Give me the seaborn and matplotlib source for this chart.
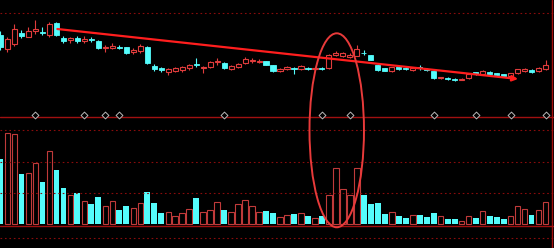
import numpy as np
import pandas as pd
import matplotlib
matplotlib.use("Agg")
import matplotlib.pyplot as plt
from matplotlib.patches import Ellipse
import seaborn as sns

# ---------------- data ----------------
opens = [10.50, 9.10, 9.60, 10.75, 10.35, 10.90, 10.85, 10.50, 11.70, 10.20,
         10.00, 10.20, 9.90, 10.10, 9.93, 9.17, 9.25, 9.35, 9.27, 8.80,
         8.87, 9.33, 7.43, 7.17, 6.83, 6.95, 7.02, 7.17, 7.65, 7.17,
         7.30, 7.77, 7.70, 7.12, 7.30, 7.67, 7.90, 7.85, 7.90, 7.50,
         6.90, 7.07, 7.20, 7.07, 7.23, 7.10, 7.23, 7.17, 8.47, 8.43,
         8.30, 8.45, 8.75, 8.47, 7.50, 7.17, 6.90, 7.30, 7.23, 7.00,
         7.27, 7.15, 6.90, 6.17, 6.23, 6.13, 6.03, 6.20, 6.77, 6.65,
         6.83, 6.70, 6.60, 6.40, 6.70, 6.90, 7.05, 6.90, 7.10]
highs = [10.90, 10.30, 11.60, 11.00, 11.30, 12.00, 11.30, 11.80, 11.80, 10.40,
         10.30, 10.40, 10.40, 10.30, 10.00, 9.50, 9.70, 9.53, 9.30, 9.17,
         9.57, 9.40, 7.60, 7.33, 7.17, 7.33, 7.40, 7.63, 8.20, 7.45,
         7.90, 8.20, 7.77, 7.55, 7.70, 8.33, 8.23, 8.10, 7.95, 7.55,
         7.20, 7.43, 7.33, 7.50, 7.30, 7.30, 7.30, 8.65, 8.95, 8.80,
         8.67, 9.55, 9.00, 8.50, 7.55, 7.23, 7.35, 7.40, 7.30, 7.25,
         7.50, 7.20, 6.95, 6.33, 6.30, 6.20, 6.20, 6.70, 6.85, 7.05,
         6.90, 6.75, 6.65, 6.73, 7.15, 7.20, 7.10, 7.30, 8.00]
lows = [9.00, 8.80, 9.40, 10.20, 10.30, 10.60, 10.50, 10.30, 10.40, 9.70,
        9.70, 9.70, 9.70, 9.80, 9.10, 8.83, 9.10, 9.10, 8.60, 8.60,
        8.73, 7.60, 6.90, 6.83, 6.50, 6.83, 6.83, 7.03, 7.35, 6.70,
        7.20, 7.50, 7.15, 7.00, 7.20, 7.60, 7.70, 7.70, 7.50, 6.85,
        6.80, 6.97, 6.60, 7.00, 7.00, 7.00, 7.00, 7.10, 8.40, 8.33,
        8.23, 8.40, 8.50, 8.00, 6.93, 6.90, 6.80, 7.05, 7.00, 6.93,
        7.00, 6.90, 6.13, 6.10, 6.00, 5.93, 5.97, 6.13, 6.53, 6.60,
        6.53, 6.43, 6.35, 6.33, 6.63, 6.83, 6.75, 6.83, 7.05]
closes = [9.30, 10.10, 11.10, 10.40, 10.95, 11.15, 10.75, 11.60, 10.50, 9.90,
          10.20, 9.90, 10.15, 10.00, 9.17, 9.33, 9.45, 9.25, 8.67, 9.00,
          9.40, 7.67, 7.10, 6.97, 7.07, 7.20, 7.27, 7.50, 7.50, 7.35,
          7.80, 7.90, 7.20, 7.45, 7.60, 8.13, 8.00, 7.95, 7.55, 6.92,
          7.10, 7.33, 7.10, 7.40, 7.07, 7.20, 7.10, 8.55, 8.75, 8.67,
          8.55, 9.07, 8.67, 8.05, 7.00, 6.95, 7.30, 7.13, 7.08, 7.17,
          7.17, 7.00, 6.17, 6.27, 6.07, 6.00, 6.15, 6.62, 6.60, 6.95,
          6.60, 6.50, 6.40, 6.67, 7.08, 7.13, 6.82, 7.23, 7.53]
volumes = [64.7, 90.4, 89.7, 49.7, 50.4, 61.0, 42.0, 72.7, 53.7, 35.7,
           28.7, 30.4, 22.7, 19.7, 27.0, 17.7, 22.7, 13.7, 17.7, 15.4,
           20.4, 31.7, 20.7, 11.0, 11.4, 7.4, 10.4, 14.7, 25.7, 11.4,
           13.4, 21.4, 13.4, 11.4, 19.4, 23.7, 17.4, 11.4, 12.4, 10.4,
           6.4, 8.4, 9.4, 10.4, 7.7, 5.4, 7.7, 28.4, 55.4, 34.4,
           28.4, 55.4, 28.4, 19.4, 20.7, 9.7, 11.4, 7.4, 6.0, 8.4,
           8.4, 6.7, 10.4, 7.4, 4.4, 4.7, 2.7, 7.7, 5.4, 13.0,
           7.4, 6.4, 4.7, 7.7, 17.4, 14.4, 9.0, 13.4, 21.7]
# direction of each day (1 = up/red hollow, 0 = down/cyan filled)
up_flags = [0, 1, 1, 0, 1, 1, 0, 1, 0, 0, 1, 0, 1, 0, 0, 1, 1, 0, 0, 1,
            1, 0, 0, 0, 1, 1, 1, 1, 0, 1, 1, 1, 0, 1, 1, 1, 1, 1, 0, 0,
            1, 1, 0, 1, 0, 1, 0, 1, 1, 1, 1, 1, 0, 0, 0, 0, 1, 0, 0, 1,
            0, 0, 0, 1, 0, 0, 1, 1, 0, 1, 0, 0, 0, 1, 1, 1, 0, 1, 1]
signal_days = [5, 12, 15, 17, 32, 46, 50, 62, 68, 73, 78]
trend_start = (8.17, 11.10)
trend_end = (74.03, 6.10)

# ---------------- style ----------------
RED = "#e03c3c"
VRED = "#c03a3a"
CYAN = "#54fcfc"
GRID = "#8a0c0c"
sns.set_style("dark", {"axes.facecolor": "black", "figure.facecolor": "black"})

n = len(opens)
idx = np.arange(n)
o = np.array(opens); c = np.array(closes)
h = np.array(highs); l = np.array(lows)
up = np.array(up_flags).astype(bool)

W, H = 554, 248
fig = plt.figure(figsize=(W / 100, H / 100), dpi=100, facecolor="black")
split = 119
ax1 = fig.add_axes([0, (H - split) / H, 1, split / H])
ax2 = fig.add_axes([0, 0, 1, (H - split) / H])
for ax in (ax1, ax2):
    ax.set_facecolor("none")
    for s in ax.spines.values():
        s.set_visible(False)
    ax.set_xticks([]); ax.set_yticks([])
    ax.grid(False)
ax2.set_zorder(3)

xlim = (-0.03, 79.17)

# ---------------- price panel ----------------
ax1.axhline(12.7, color=GRID, lw=0.8, ls=(0, (1.5, 2.5)))
ax1.axhline(2.3, color="#a01010", lw=1.0)
ax1.vlines(idx[up], l[up], h[up], color=RED, lw=0.8, zorder=2)
ax1.vlines(idx[~up], l[~up], h[~up], color=CYAN, lw=0.8, zorder=2)
bw = 0.72
ax1.bar(idx[up], np.maximum(c[up] - o[up], 0.03), bottom=o[up], width=bw,
        facecolor="black", edgecolor=RED, lw=0.8, zorder=3)
ax1.bar(idx[~up], np.maximum(o[~up] - c[~up], 0.03), bottom=c[~up], width=bw,
        facecolor=CYAN, edgecolor=CYAN, lw=0.6, zorder=3)
sig = pd.DataFrame({"day": signal_days, "y": [2.5] * len(signal_days)})
sns.scatterplot(data=sig, x="day", y="y", marker="D", s=12, color="black",
                edgecolor="#b8b8b8", linewidth=0.7, ax=ax1, zorder=4, legend=False)
ax1.annotate("", xy=trend_end, xytext=trend_start,
             arrowprops=dict(arrowstyle="-|>", color="#ff1e1e", lw=1.6,
                             mutation_scale=8, shrinkA=0, shrinkB=0), zorder=5)
ax1.set_xlim(*xlim)
ax1.set_ylim(14 - split / 10, 14)
ax1.set_xlabel(""); ax1.set_ylabel("")

# ---------------- volume panel ----------------
for yv in (93.7, 61.7, 30.7, -14.3):
    ax2.axhline(yv, color=GRID, lw=0.8, ls=(0, (1.5, 2.5)))
ax2.axhline(-2.3, color="#a01010", lw=1.0)
vol = np.array(volumes)
ax2.bar(idx[up], vol[up], width=0.74, facecolor="black", edgecolor=VRED, lw=0.8)
ax2.bar(idx[~up], vol[~up], width=0.76, facecolor=CYAN, edgecolor="none", lw=0)
ax2.set_xlim(*xlim)
ax2.set_ylim(-24.3, 223.7 - split)
ax2.set_xticks([]); ax2.set_yticks([])
ax2.set_xlabel(""); ax2.set_ylabel("")
ax2.axvline(78.9, ymin=0, ymax=1, color="#a01010", lw=1.0)
ax1.axvline(78.9, color="#a01010", lw=1.0)

ell = Ellipse((48.11, 93.4), width=7.79, height=194, fill=False,
              edgecolor="#e83a3a", lw=1.4, clip_on=False, zorder=10)
ax2.add_patch(ell)

fig.savefig("out.png", dpi=100, facecolor="black")
